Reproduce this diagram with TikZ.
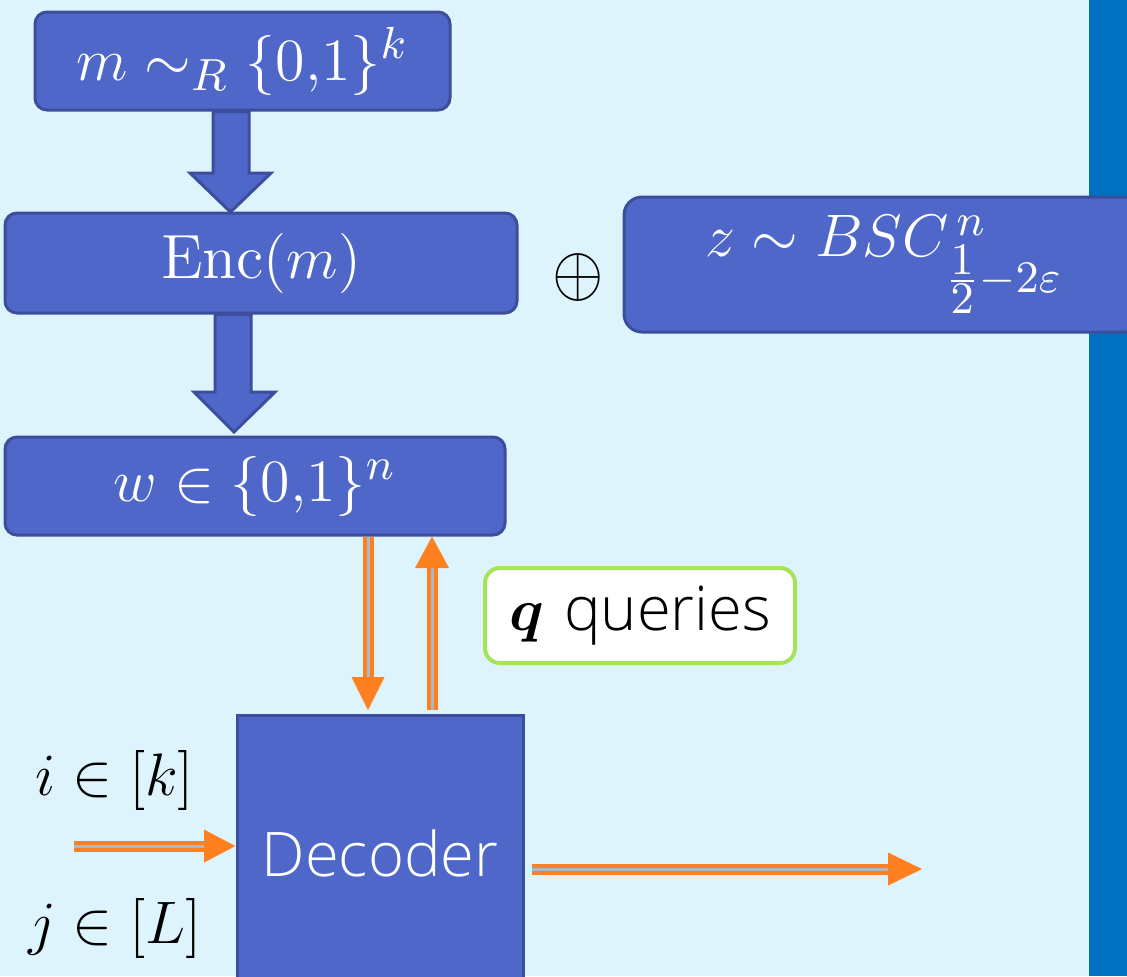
\documentclass[tikz,border=0pt]{standalone}
\usepackage{fontspec}
\usepackage{amsmath,amssymb,bm}
\newfontfamily\lightsans{Open Sans Light}
\usetikzlibrary{calc}
\definecolor{bg}{RGB}{221,244,252}
\definecolor{strip}{RGB}{0,112,192}
\definecolor{boxfill}{RGB}{79,103,200}
\definecolor{boxline}{RGB}{60,78,155}
\definecolor{arrorange}{RGB}{255,128,32}
\definecolor{dblgray}{RGB}{170,186,194}
\definecolor{qgreen}{RGB}{166,226,90}
\newdimen\px \px=0.2pt
\begin{document}
\begin{tikzpicture}[x=0.2pt,y=-0.2pt,
  box/.style={draw=boxline, fill=boxfill, line width=3\px, rounded corners=12\px,
    text=white, font=\fontsize{12.5}{14}\selectfont, inner sep=0pt},
  blockarrow/.style={draw=boxline, fill=boxfill, line width=3\px, line join=miter},
  dbl/.style={draw=arrorange, line width=4\px, double=dblgray, double distance=3\px},
  tiphead/.style={fill=arrorange, draw=none},
  lbl/.style={font=\fontsize{12.5}{14}\selectfont, text=black, inner sep=0pt}]
\useasboundingbox (0,0) rectangle (1127,976);
\clip (0,0) rectangle (1127,976);
\fill[bg] (0,0) rectangle (1127,976);
\fill[strip] (1089,0) rectangle (1127,976);

% boxes
\node[box, minimum width=415\px, minimum height=98\px] (m) at (242.5,61) {$m \sim_R \{0{,}1\}^k$};
\node[box, minimum width=512\px, minimum height=100\px] (enc) at (261,263) {$\mathrm{Enc}(m)$\hspace{4pt}};
\node[box, minimum width=500\px, minimum height=98\px] (w) at (255,486) {$w \in \{0{,}1\}^n$\hspace{1pt}};
\node[box, rounded corners=18\px, minimum width=520\px, minimum height=135\px] (z) at (884,264.5)
  {\raisebox{2pt}{$z \sim BSC^{\,n}_{\frac{\scriptstyle 1}{\scriptstyle 2}-2\varepsilon}$}\hspace{6pt}};
\node[lbl] (plus) at (578,277) {\scalebox{1.1}[1.2]{$\oplus$}};
\node[box, rounded corners=0pt, minimum width=286\px, minimum height=280\px] (dec) at (380,855)
  {\raisebox{0.6pt}{\lightsans\fontsize{12.3}{14}\selectfont Decoder}};
\node[draw=qgreen, fill=white, line width=4\px, rounded corners=15\px, inner sep=0pt,
  minimum width=310\px, minimum height=95\px, font=\fontsize{12.5}{14}\selectfont] (q) at (640,615.5)
  {$\bm{q}$\ {\lightsans\fontsize{12.3}{14}\selectfont queries}};
\node[lbl] (i) at (115,780) {$i \in [k]$};
\node[lbl] (j) at (115,928) {$j \in [L]$};

% block arrows
\draw[blockarrow] (213,0 |- m.south) -- (249,0 |- m.south) -- (249,173) -- (271,173) -- (230.5,212)
  -- (190,173) -- (213,173) -- cycle;
\draw[blockarrow] (215,0 |- enc.south) -- (251,0 |- enc.south) -- (251,392) -- (275,392) -- (234,432)
  -- (194,392) -- (215,392) -- cycle;

% double arrows
\draw[dbl] (368,0 |- w.south) -- (368,677);
\fill[tiphead] (351.5,677) -- (384.5,677) -- (368,710) -- cycle;
\draw[dbl] (432,710) -- (432,568);
\fill[tiphead] (415,568) -- (449,568) -- (432,0 |- w.south) -- cycle;
\draw[dbl] (74,846) -- (204,846);
\fill[tiphead] (204,829.5) -- (204,862.5) -- (dec.west |- 0,846) -- cycle;
\draw[dbl] ([xshift=1.4pt]dec.east |- 0,869) -- (888,869);
\fill[tiphead] (888,852.5) -- (888,885.5) -- (922,869) -- cycle;
\end{tikzpicture}
\end{document}
